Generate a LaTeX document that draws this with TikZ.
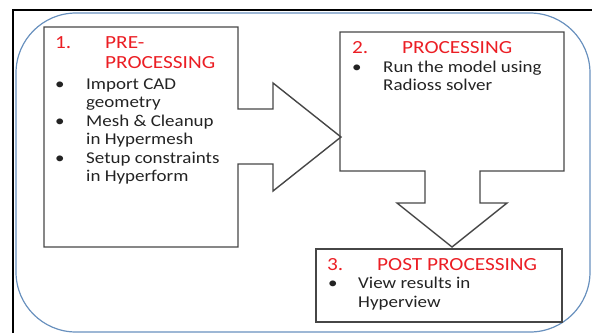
\documentclass[tikz,border=0pt]{standalone}
\usepackage{fontspec}
\setmainfont{Carlito}[FakeStretch=1.15]
\usetikzlibrary{calc}

\definecolor{framegray}{RGB}{70,70,70}
\definecolor{steptitle}{RGB}{235,30,36}
\definecolor{roundblue}{RGB}{105,145,190}
\definecolor{bodytext}{RGB}{35,35,35}

\tikzset{
  stepline/.style={line width=1.4pt, color=framegray, line join=miter},
  steptext/.style={anchor=base west, inner sep=0pt, text=bodytext,
    font=\fontsize{16.5}{18.5}\selectfont},
  stephead/.style={anchor=base west, inner sep=0pt, text=steptitle,
    font=\fontsize{18.5}{20}\selectfont},
}

\begin{document}
\begin{tikzpicture}[x=1pt,y=-1pt]
		%%%%% START %%%%%
		\useasboundingbox (0,0) rectangle (592,333);
		
		\draw[line width=2.2pt] (13,333) -- (13,10) -- (592,10);
		\draw[roundblue, line width=1.2pt, rounded corners=60pt] (16,13) rectangle (590,332);
		
		% pre-processing box with its arrow
		\draw[stepline] (44,27) -- (238,27) -- (238,109) -- (273,109) -- (273,83)
			-- (341,137) -- (273,191) -- (273,164) -- (238,164) -- (238,247)
			-- (44,247) -- cycle;
		
		% processing box with its arrow
		\draw[stepline] (340,32) -- (564,32) -- (564,171) -- (480,171) -- (480,203)
			-- (507,203) -- (452,247) -- (397,203) -- (425,203) -- (425,171)
			-- (340,171) -- cycle;
		
		% post processing box
		\draw[stepline] (316,249) rectangle (562,322);
		
		\node[stephead] (prenum) at (55,48) {1.};
		\node[stephead] (pretitle) at (105,48) {PRE-};
		\node[stephead] (pretitleb) at (105,68) {PROCESSING};
		\node[steptext] (prebulleta) at (55,89) {\textbullet};
		\node[steptext] (preitema) at (86,89) {Import CAD};
		\node[steptext] (preitemab) at (86,107.5) {geometry};
		\node[steptext] (prebulletb) at (55,126) {\textbullet};
		\node[steptext] (preitemb) at (86,126) {Mesh \& Cleanup};
		\node[steptext] (preitembb) at (86,144.5) {in Hypermesh};
		\node[steptext] (prebulletc) at (55,163) {\textbullet};
		\node[steptext] (preitemc) at (86,163) {Setup constraints};
		\node[steptext] (preitemcb) at (86,181.5) {in Hyperform};
		
		\node[stephead] (procnum) at (352,53) {2.};
		\node[stephead] (proctitle) at (402,53) {PROCESSING};
		\node[steptext] (procbullet) at (352,72) {\textbullet};
		\node[steptext] (procitem) at (383,72) {Run the model using};
		\node[steptext] (procitemb) at (383,90.5) {Radioss solver};
		
		\node[stephead] (postnum) at (327,270) {3.};
		\node[stephead] (posttitle) at (377,270) {POST PROCESSING};
		\node[steptext] (postbullet) at (328,288.5) {\textbullet};
		\node[steptext] (postitem) at (358,288.5) {View results in};
		\node[steptext] (postitemb) at (358,307) {Hyperview};
		
		%%%%% END %%%%%
\end{tikzpicture}
\end{document}
